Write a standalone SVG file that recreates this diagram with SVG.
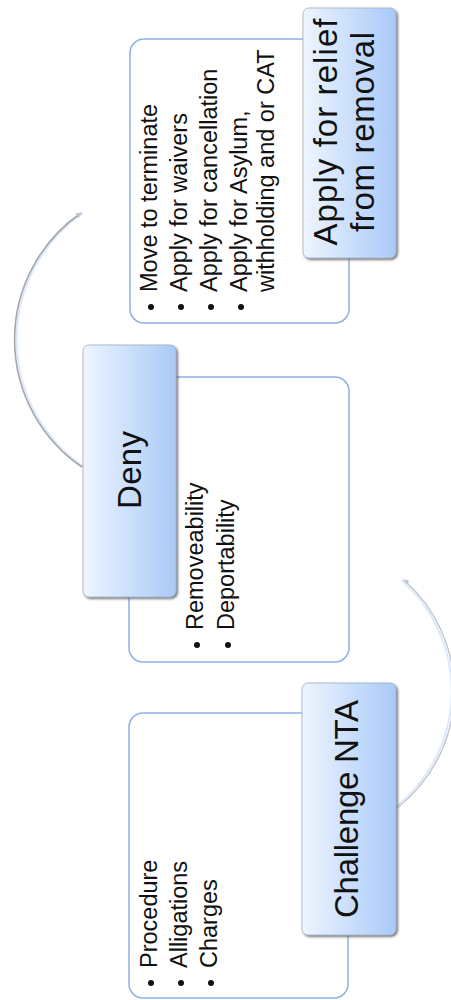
<svg xmlns="http://www.w3.org/2000/svg" width="451" height="1000" viewBox="0 0 451 1000">
<defs>
<linearGradient id="hg" x1="0" y1="0" x2="1" y2="0">
<stop offset="0" stop-color="#eef5ff"/>
<stop offset="1" stop-color="#a9c9f7"/>
</linearGradient>
<filter id="sh" x="-10%" y="-10%" width="130%" height="130%">
<feDropShadow dx="1.5" dy="1.5" stdDeviation="0.8" flood-color="#404040" flood-opacity="0.75"/>
</filter>
<marker id="ah" markerWidth="8" markerHeight="8" refX="5" refY="3" orient="auto" markerUnits="userSpaceOnUse">
<path d="M0,0 L6,3 L0,6 z" fill="#b9c6d6"/>
</marker>
</defs>
<style>
.box{fill:#fff;stroke:#8db1e2;stroke-width:1.5}
.hdr{fill:url(#hg);stroke:#9fb0c8;stroke-width:0.8;filter:url(#sh)}
.ht{font-family:"Liberation Sans",Arial,sans-serif;font-size:33px;fill:#111;text-anchor:middle}
.bt{font-family:"Liberation Sans",Arial,sans-serif;font-size:23.5px;fill:#111}
.dot{fill:#111}
.arcG{fill:none;stroke:#a6a6a6;stroke-width:1.6}
.arcG2{fill:none;stroke:#c4c4c4;stroke-width:1.4}
.arcL{fill:none;stroke:#dce9fa;stroke-width:2}
</style>
<g id="connectors">
<path class="arcL" d="M 84 467 A 154 154 0 0 1 83 213"/>
<path class="arcG" d="M 82 467 A 154 154 0 0 1 81 213" marker-end="url(#ah)"/>
<path class="arcG2" d="M 397 808 A 148 148 0 0 0 404 580" marker-end="url(#ah)"/>
<path class="arcL" d="M 394.5 808 A 148 148 0 0 0 401.5 580"/>
</g>
<g id="node-apply">
<rect class="box" x="130" y="39" width="219" height="284" rx="14"/>
<rect class="hdr" x="303" y="8" width="93" height="250" rx="6"/>
<text class="ht" transform="rotate(-90)" x="-132" y="337" textLength="227">Apply for relief</text>
<text class="ht" transform="rotate(-90)" x="-132" y="374" textLength="200">from removal</text>
<g transform="rotate(-90)">
<text class="bt" x="-292" y="157">Move to terminate</text>
<text class="bt" x="-292" y="187">Apply for waivers</text>
<text class="bt" x="-292" y="217">Apply for cancellation</text>
<text class="bt" x="-292" y="247">Apply for Asylum,</text>
<text class="bt" x="-292" y="274">withholding and or CAT</text>
</g>
<circle class="dot" cx="151" cy="307" r="3"/>
<circle class="dot" cx="181" cy="307" r="3"/>
<circle class="dot" cx="211" cy="307" r="3"/>
<circle class="dot" cx="241" cy="307" r="3"/>
</g>
<g id="node-deny">
<rect class="box" x="129" y="377" width="220" height="285" rx="14"/>
<rect class="hdr" x="83" y="345" width="93" height="252" rx="6"/>
<text class="ht" transform="rotate(-90)" x="-470" y="141" textLength="78">Deny</text>
<g transform="rotate(-90)">
<text class="bt" x="-630" y="203">Removeability</text>
<text class="bt" x="-630" y="234">Deportability</text>
</g>
<circle class="dot" cx="197" cy="645" r="3"/>
<circle class="dot" cx="228" cy="645" r="3"/>
</g>
<g id="node-challenge">
<rect class="box" x="129" y="713" width="219" height="285" rx="14"/>
<rect class="hdr" x="302" y="683" width="94" height="252" rx="6"/>
<text class="ht" transform="rotate(-90)" x="-809" y="358" textLength="218">Challenge NTA</text>
<g transform="rotate(-90)">
<text class="bt" x="-968" y="157">Procedure</text>
<text class="bt" x="-968" y="187">Alligations</text>
<text class="bt" x="-968" y="217">Charges</text>
</g>
<circle class="dot" cx="151" cy="983" r="3"/>
<circle class="dot" cx="181" cy="983" r="3"/>
<circle class="dot" cx="211" cy="983" r="3"/>
</g>
</svg>
